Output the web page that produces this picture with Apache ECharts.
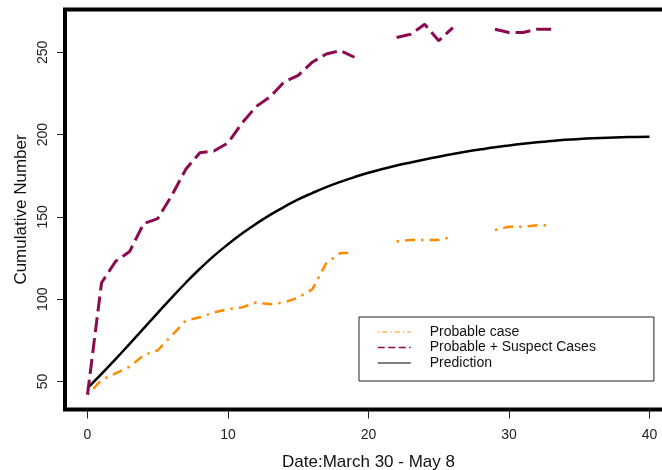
<!DOCTYPE html>
<html>
<head>
<meta charset="utf-8">
<script src="https://cdn.jsdelivr.net/npm/echarts@6/dist/echarts.min.js"></script>
<style>
  html, body { margin: 0; padding: 0; background: #fff; }
  #chart { width: 662px; height: 470px; }
</style>
</head>
<body>
<div id="chart"></div>
<script>
// daily counts, day 0 = March 30 (null = no report that day)
var probableCase = [42, 51, 55, 59, 66, 69, 78, 87, 89, 92, 94, 95, 98, 97, 98, 101, 106, 122, 128, 128,
  null, null, 135, 136, 136, 136, 138, null, null, 142, 144, 144, 145, 145];
var suspectCases = [42, 110, 123, 129, 146, 149, 163, 179, 189, 190, 195, 207, 217, 223, 232, 236, 244, 249, 251, 247,
  null, null, 259, 261, 267, 257, 265, null, null, 264, 262, 262, 264, 264];
var prediction = [46, 54.6, 63.6, 72.9, 82.3, 91.7, 101, 110, 118.5, 126.3, 133.4, 139.9, 145.8, 151.2, 156.1,
  160.6, 164.5, 168.1, 171.3, 174.2, 176.8, 179.1, 181.2, 183.1, 184.9, 186.6, 188.2, 189.7, 191.05,
  192.3, 193.4, 194.4, 195.3, 196.1, 196.8, 197.35, 197.8, 198.15, 198.4, 198.6, 198.75];
var xTicks = [0, 10, 20, 30, 40];
var yTicks = [50, 100, 150, 200, 250];

function toPairs(vals) {
  return vals.map(function (v, i) { return [i, v]; });
}

var font = "'Liberation Sans', Arial, sans-serif";
var chart = echarts.init(document.getElementById("chart"), null, { renderer: "canvas" });

var option = {
  animation: false,
  backgroundColor: "#fff",
  grid: {
    left: 65,
    top: 9.5,
    width: 607,
    height: 400,
    outerBoundsMode: "none",
    show: true,
    borderColor: "#000",
    borderWidth: 4,
  },
  xAxis: {
    type: "value",
    min: -1.6,
    max: 41.6,
    name: "Date:March 30 - May 8",
    nameLocation: "middle",
    nameGap: 44,
    nameTextStyle: { fontFamily: font, fontSize: 17, color: "#111" },
    axisLine: { show: false, onZero: false },
    splitLine: { show: false },
    axisTick: {
      show: true,
      customValues: xTicks,
      length: 9,
      lineStyle: { color: "#222", width: 1 },
    },
    axisLabel: {
      customValues: xTicks,
      margin: 19,
      fontFamily: font,
      fontSize: 14,
      color: "#222",
    },
  },
  yAxis: {
    type: "value",
    position: "left",
    min: 33,
    max: 276,
    name: "Cumulative Number",
    nameLocation: "middle",
    nameGap: 35,
    nameMoveOverlap: false,
    nameTextStyle: { fontFamily: font, fontSize: 17, color: "#111" },
    axisLine: { show: false, onZero: false },
    splitLine: { show: false },
    axisTick: {
      show: true,
      inside: false,
      customValues: yTicks,
      length: 8,
      lineStyle: { color: "#222", width: 1 },
    },
    axisLabel: {
      customValues: yTicks,
      rotate: 90,
      margin: 15,
      fontFamily: font,
      fontSize: 14,
      color: "#222",
    },
  },
  legend: {
    orient: "vertical",
    left: 359,
    top: 317,
    padding: [8, 58, 11, 18],
    itemWidth: 33,
    itemHeight: 14,
    itemGap: 1.5,
    borderColor: "#222",
    borderWidth: 1,
    backgroundColor: "#fff",
    itemStyle: { opacity: 0, borderWidth: 0 },
    textStyle: { fontFamily: font, fontSize: 14, color: "#111", padding: [0, 0, 0, 14] },
    data: [
      { name: "Probable case", lineStyle: { width: 1.2, type: [1.5, 3, 5, 3] } },
      { name: "Probable + Suspect Cases", lineStyle: { width: 1.5, type: [7, 3.5] } },
      { name: "Prediction", lineStyle: { width: 1.2 } },
    ],
  },
  series: [
    {
      name: "Probable case",
      type: "line",
      data: toPairs(probableCase),
      symbol: "none",
      connectNulls: false,
      lineStyle: { color: "#FF8C00", width: 2.5, type: [2.5, 6, 10, 6] },
      itemStyle: { color: "#FF8C00" },
      z: 3,
    },
    {
      name: "Probable + Suspect Cases",
      type: "line",
      data: toPairs(suspectCases),
      symbol: "none",
      connectNulls: false,
      lineStyle: { color: "#8B0A50", width: 3, type: [15, 6] },
      itemStyle: { color: "#8B0A50" },
      z: 3,
    },
    {
      name: "Prediction",
      type: "line",
      data: toPairs(prediction),
      symbol: "none",
      smooth: true,
      lineStyle: { color: "#000", width: 2.5 },
      itemStyle: { color: "#000" },
      z: 2,
    },
  ],
};

chart.setOption(option);
</script>
</body>
</html>
